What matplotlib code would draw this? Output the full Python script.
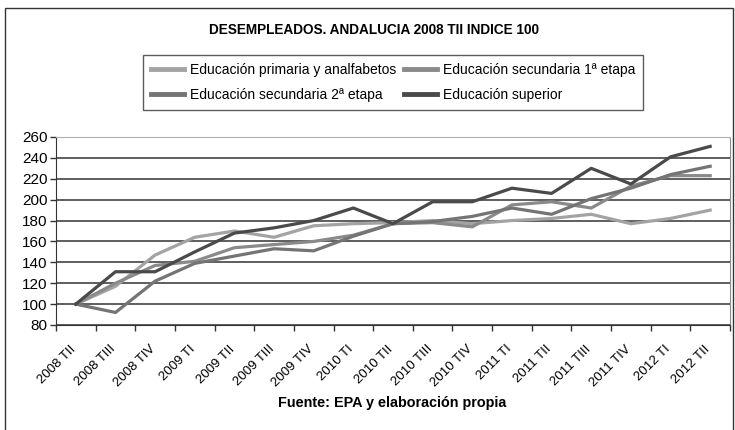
import matplotlib
matplotlib.use('Agg')
import matplotlib.pyplot as plt
from matplotlib.patches import Rectangle
from matplotlib.transforms import ScaledTranslation

plt.rcParams['font.family'] = ['Liberation Sans', 'DejaVu Sans']

# trimestres
periodos = ["2008 TII", "2008 TIII", "2008 TIV", "2009 TI", "2009 TII", "2009 TIII",
            "2009 TIV", "2010 TI", "2010 TII", "2010 TIII", "2010 TIV", "2011 TI",
            "2011 TII", "2011 TIII", "2011 TIV", "2012 TI", "2012 TII"]

# indice 100 = 2008 TII
primaria = [100, 117, 147, 164, 170, 164, 175, 177, 178, 180, 177, 180, 182, 186, 177, 182, 190]
secundaria1 = [100, 120, 137, 141, 154, 157, 160, 166, 177, 178, 174, 195, 198, 192, 213, 223, 223]
secundaria2 = [100, 92, 122, 139, 146, 153, 151, 165, 177, 179, 184, 192, 186, 201, 211, 224, 232]
superior = [100, 131, 131, 150, 168, 173, 180, 192, 177, 198, 198, 211, 206, 230, 215, 241, 251]

nombres = ["Educación primaria y analfabetos", "Educación secundaria 1ª etapa",
           "Educación secundaria 2ª etapa", "Educación superior"]
series = [primaria, secundaria1, secundaria2, superior]
colores = ['#a3a3a3', '#8a8a8a', '#747474', '#4a4a4a']

fig = plt.figure(figsize=(7.35, 4.3), dpi=100)
ax = fig.add_axes([56/735, 1-325/430, 674/735, 188/430])

x = list(range(len(periodos)))
lineas = []
for s, nom, c in zip(series, nombres, colores):
    l, = ax.plot(x, s, color=c, lw=2.3, label=nom)
    lineas.append(l)

# ejes
ax.set_xlim(-0.5, len(periodos) - 0.5)
ax.set_ylim(80, 260)
ax.set_yticks(range(80, 261, 20))
ax.tick_params(axis='y', labelsize=11, length=4, width=1, color='#333333', pad=2)
ax.set_xticks(x)
ax.set_xticklabels(periodos, rotation=45, ha='right', rotation_mode='anchor', fontsize=9.5)
ax.tick_params(axis='x', which='major', length=0, pad=13)
ax.set_xticks([i - 0.5 for i in range(len(periodos) + 1)], minor=True)
ax.tick_params(axis='x', which='minor', length=4, width=1, color='#333333')
# mover etiquetas un poco a la izquierda
for lbl in ax.get_xticklabels():
    lbl.set_transform(lbl.get_transform() + ScaledTranslation(-0.06, 0, fig.dpi_scale_trans))

# rejilla
ax.grid(axis='y', color='#333333', lw=1.1)
ax.set_axisbelow(True)
ax.spines['top'].set_color('#b0b0b0')
ax.spines['right'].set_color('#8a8a8a')
ax.spines['left'].set_color('#333333')
ax.spines['bottom'].set_color('#333333')

# titulo, leyenda y fuente
fig.text(374/735, 1-30/430, "DESEMPLEADOS. ANDALUCIA 2008 TII INDICE 100",
         ha='center', va='center', fontsize=9.8, fontweight='bold')
orden = [0, 2, 1, 3]
leg = fig.legend([lineas[i] for i in orden], [nombres[i] for i in orden],
                 loc='center', bbox_to_anchor=(393/735, 1-82.5/430), ncol=2, fontsize=10,
                 frameon=True, fancybox=False, edgecolor='#333333', handlelength=2.4,
                 handletextpad=0.4, columnspacing=0.6, labelspacing=0.78, borderpad=0.55)
leg.get_frame().set_linewidth(1)
for h in leg.get_lines():
    h.set_linewidth(3.5)
fig.text(392/735, 1-403/430, "Fuente: EPA y elaboración propia",
         ha='center', va='center', fontsize=10.4, fontweight='bold')

# marco exterior
fig.patches.append(Rectangle((5/735, -0.1), 728/735, 422/430 + 0.1, transform=fig.transFigure,
                             fill=False, edgecolor='#333333', lw=1))

plt.savefig('out.png', dpi=100)
